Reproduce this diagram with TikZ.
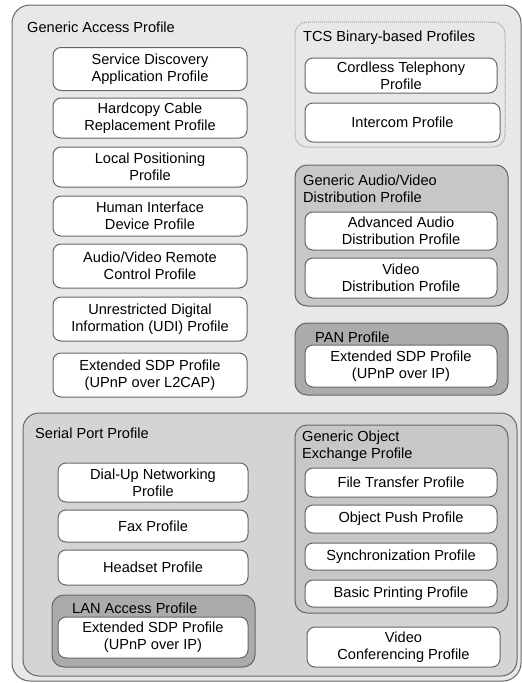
\documentclass[tikz,border=0pt]{standalone}
\usepackage{fontspec}
\setmainfont{Liberation Sans}

\newcommand{\proffont}{\fontsize{14.6}{17}\selectfont}
\tikzset{
  prof/.style={draw=black!60, line width=1pt, fill=white, rounded corners=8pt,
    inner sep=0pt, align=center, font=\proffont, text=black},
  grouptitle/.style={anchor=west, inner sep=0pt, align=left, font=\proffont, text=black},
}
% name, centre x, centre y, width, height, fill, border
\NewDocumentCommand{\profgroup}{mmmmmO{black!22}O{}}{%
\node[draw=black!60, line width=1pt, fill=#6, rounded corners=12pt, inner sep=0pt,
  minimum width=#4, minimum height=#5, #7] (#1) at (#2,#3) {};%
}

\begin{document}
\begin{tikzpicture}[x=1pt, y=-1pt]
        \useasboundingbox[fill=white] (0,0) rectangle (522,683);

        % Outer groups.
        \profgroup{gap}{266.5}{343}{509pt}{676pt}[black!9][rounded corners=18pt]
        \node[grouptitle] (gaptitle) at (27,27) {Generic Access Profile};
        \profgroup{tcs}{400}{84.5}{210pt}{125pt}[black!9][densely dotted, draw=black!40]
        \node[grouptitle] (tcstitle) at (303,38) {TCS Binary-based Profiles};
        \profgroup{gavdp}{401.5}{235.5}{213pt}{141pt}
        \node[grouptitle] (gavdptitle) at (303,189) {Generic Audio/Video\\Distribution Profile};
        \profgroup{pan}{401.5}{359}{213pt}{72pt}[black!33]
        \node[grouptitle] (pantitle) at (315,337) {PAN Profile};
        \profgroup{spp}{270}{544.5}{494pt}{263pt}[black!17][rounded corners=16pt]
        \node[grouptitle] (spptitle) at (35,433) {Serial Port Profile};
        \profgroup{goep}{401.5}{519}{213pt}{188pt}
        \node[grouptitle] (goeptitle) at (302,446.5) {Generic Object\\Exchange Profile};
        \profgroup{lan}{153.5}{631}{203pt}{72pt}[black!33]
        \node[grouptitle] (lantitle) at (72,608) {LAN Access Profile};

        % Generic Access Profile column.
        \node[prof, minimum width=194pt, minimum height=43pt] (sdap) at (150,69) {Service Discovery\\Application Profile};
        \node[prof, minimum width=194pt, minimum height=40pt] (hcrp) at (150,118) {Hardcopy Cable\\Replacement Profile};
        \node[prof, minimum width=194pt, minimum height=40pt] (lpp) at (150,167) {Local Positioning\\Profile};
        \node[prof, minimum width=194pt, minimum height=40pt] (hid) at (150,216) {Human Interface\\Device Profile};
        \node[prof, minimum width=194pt, minimum height=44pt] (avrcp) at (150,266) {Audio/Video Remote\\Control Profile};
        \node[prof, minimum width=194pt, minimum height=44pt] (udi) at (150,319) {Unrestricted Digital\\Information (UDI) Profile};
        \node[prof, minimum width=194pt, minimum height=44pt] (esdpl2cap) at (150,375) {Extended SDP Profile\\(UPnP over L2CAP)};

        % TCS, audio/video and PAN.
        \node[prof, minimum width=192pt, minimum height=35pt] (ctp) at (401,75.5) {Cordless Telephony\\Profile};
        \node[prof, minimum width=195pt, minimum height=39pt] (icp) at (402.5,122.5) {Intercom Profile};
        \node[prof, minimum width=192pt, minimum height=38pt] (a2dp) at (401,231) {Advanced Audio\\Distribution Profile};
        \node[prof, minimum width=192pt, minimum height=40pt] (vdp) at (401,278) {Video\\Distribution Profile};
        \node[prof, minimum width=192pt, minimum height=42pt] (esdppan) at (401,366) {Extended SDP Profile\\(UPnP over IP)};

        % Serial Port Profile.
        \node[prof, minimum width=190pt, minimum height=39pt] (dun) at (153,482.5) {Dial-Up Networking\\Profile};
        \node[prof, minimum width=190pt, minimum height=32pt] (fax) at (153,526) {Fax Profile};
        \node[prof, minimum width=190pt, minimum height=35pt] (hsp) at (153,567.5) {Headset Profile};
        \node[prof, minimum width=190pt, minimum height=41pt] (esdplan) at (153,637.5) {Extended SDP Profile\\(UPnP over IP)};
        \node[prof, minimum width=192pt, minimum height=29pt] (ftp) at (401,482.5) {File Transfer Profile};
        \node[prof, minimum width=192pt, minimum height=28pt] (opp) at (401,519) {Object Push Profile};
        \node[prof, minimum width=192pt, minimum height=27pt] (sync) at (401,556.5) {Synchronization Profile};
        \node[prof, minimum width=192pt, minimum height=27pt] (bpp) at (401,593.5) {Basic Printing Profile};
        \node[prof, minimum width=193pt, minimum height=40pt] (vcp) at (403.5,647) {Video\\Conferencing Profile};
    \end{tikzpicture}
\end{document}
